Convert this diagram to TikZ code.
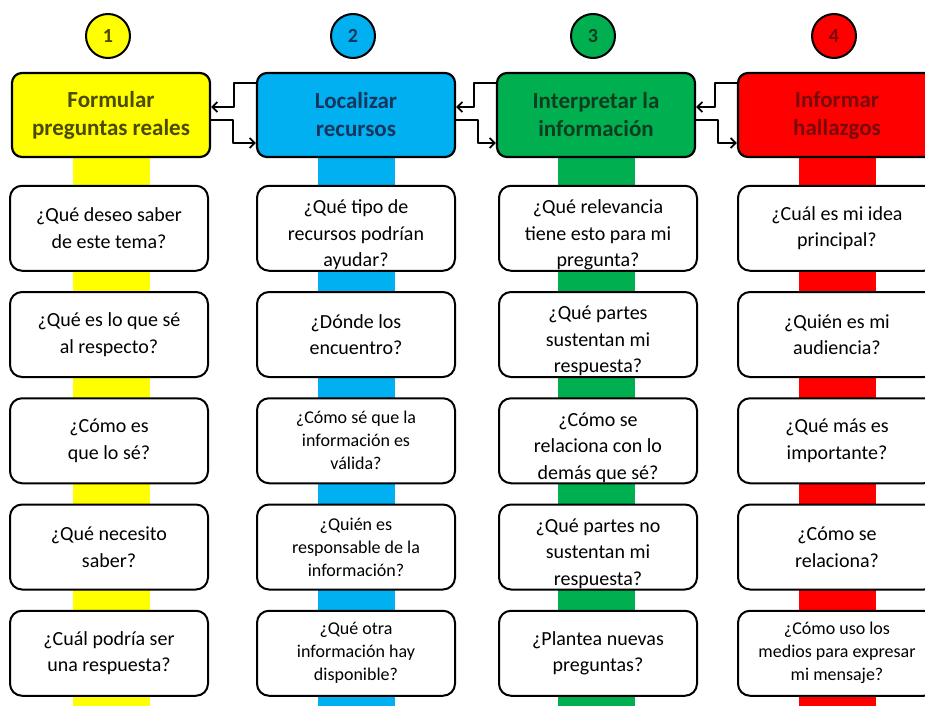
\documentclass[tikz,border=0pt]{standalone}
\usepackage{fontspec}
\setmainfont{Carlito}
\usetikzlibrary{arrows.meta,positioning,calc}

\definecolor{stepyellow}{HTML}{FFFF00}
\definecolor{stepblue}{HTML}{00B0F0}
\definecolor{stepgreen}{HTML}{00B050}
\definecolor{stepred}{HTML}{FF0000}
\definecolor{inkyellow}{HTML}{4A4A00}
\definecolor{inkblue}{HTML}{17365D}
\definecolor{inkgreen}{HTML}{0F3D1F}
\definecolor{inkred}{HTML}{7A0A0A}

% pushes a three-line question a bit down in its box
\newcommand\dropline{\rule{0pt}{27pt}}

\begin{document}
\begin{tikzpicture}[
		x=1pt, y=-1pt,
		line join=round,
		line cap=round,
		>={Straight Barb[length=5pt,width=10pt]},
		stage/.style={draw=black, line width=2.2pt, rounded corners=10pt, minimum width=198pt, minimum height=84pt, align=center, inner sep=2pt, font=\fontsize{23}{28}\selectfont\bfseries},
		badge/.style={circle, draw=black, line width=2pt, minimum size=44pt, inner sep=0pt, font=\fontsize{20}{20}\selectfont\bfseries},
		question/.style={draw=black, fill=white, line width=2pt, rounded corners=12pt, minimum width=198pt, minimum height=85pt, align=center, inner xsep=2pt, inner ysep=0pt},
		normaltext/.style={font=\fontsize{20}{26.5}\selectfont},
		smalltext/.style={font=\fontsize{18}{23}\selectfont},
		flow/.style={->, line width=1.8pt}
	]
	
	\useasboundingbox (0,0) rectangle (925,706);
	\clip (0,0) rectangle (925,706);
	
	% Stripes, badges and stages
	\foreach \i/\cx/\col/\ink/\txt in {
		1/111/stepyellow/inkyellow/{Formular\\preguntas reales},
		2/356/stepblue/inkblue/{Localizar\\recursos},
		3/596/stepgreen/inkgreen/{Interpretar la\\información},
		4/837/stepred/inkred/{Informar\\hallazgos}} {
		\fill[\col] (\cx-38.5,150) rectangle (\cx+38.5,706);
		\node[badge, fill=\col, text=\ink] (n\i) at (\cx-3,36) {\i};
		\node[stage, fill=\col, text=\ink] (h\i) at (\cx,115) {\txt};
	}
	
	% Questions
	\foreach \r/\st/\q in {
		1/normaltext/{¿Qué deseo saber\\de este tema?},
		2/normaltext/{¿Qué es lo que sé\\al respecto?},
		3/normaltext/{¿Cómo es\\que lo sé?},
		4/normaltext/{¿Qué necesito\\saber?},
		5/normaltext/{¿Cuál podría ser\\una respuesta?}} {
		\node[question, \st] (q1-\r) at (109,{122+106.25*\r}) {\q};
	}
	\foreach \r/\st/\q in {
		1/normaltext/{\dropline ¿Qué tipo de\\recursos podrían\\ayudar?},
		2/normaltext/{¿Dónde los\\encuentro?},
		3/smalltext/{¿Cómo sé que la\\información es\\válida?},
		4/smalltext/{¿Quién es\\responsable de la\\información?},
		5/smalltext/{¿Qué otra\\información hay\\disponible?}} {
		\node[question, \st] (q2-\r) at (356,{122+106.25*\r}) {\q};
	}
	\foreach \r/\st/\q in {
		1/normaltext/{\dropline ¿Qué relevancia\\tiene esto para mi\\pregunta?},
		2/normaltext/{\dropline ¿Qué partes\\sustentan mi\\respuesta?},
		3/normaltext/{\dropline ¿Cómo se\\relaciona con lo\\demás que sé?},
		4/normaltext/{\dropline ¿Qué partes no\\sustentan mi\\respuesta?},
		5/normaltext/{¿Plantea nuevas\\preguntas?}} {
		\node[question, \st] (q3-\r) at (598,{122+106.25*\r}) {\q};
	}
	\foreach \r/\st/\q in {
		1/normaltext/{¿Cuál es mi idea\\principal?},
		2/normaltext/{¿Quién es mi\\audiencia?},
		3/normaltext/{¿Qué más es\\importante?},
		4/normaltext/{¿Cómo se\\relaciona?},
		5/smalltext/{¿Cómo uso los\\medios para expresar\\mi mensaje?}} {
		\node[question, \st] (q4-\r) at (837,{122+106.25*\r}) {\q};
	}
	
	% Back and forth between stages
	\foreach \a/\b in {1/2,2/3,3/4} {
		\draw[flow] ([yshift=32]h\b.west) -- ++(-22,0) |- ([yshift=8]h\a.east);
		\draw[flow] ([yshift=-5]h\a.east) -- ++(22,0) |- ([yshift=-28]h\b.west);
	}
	
\end{tikzpicture}
\end{document}
